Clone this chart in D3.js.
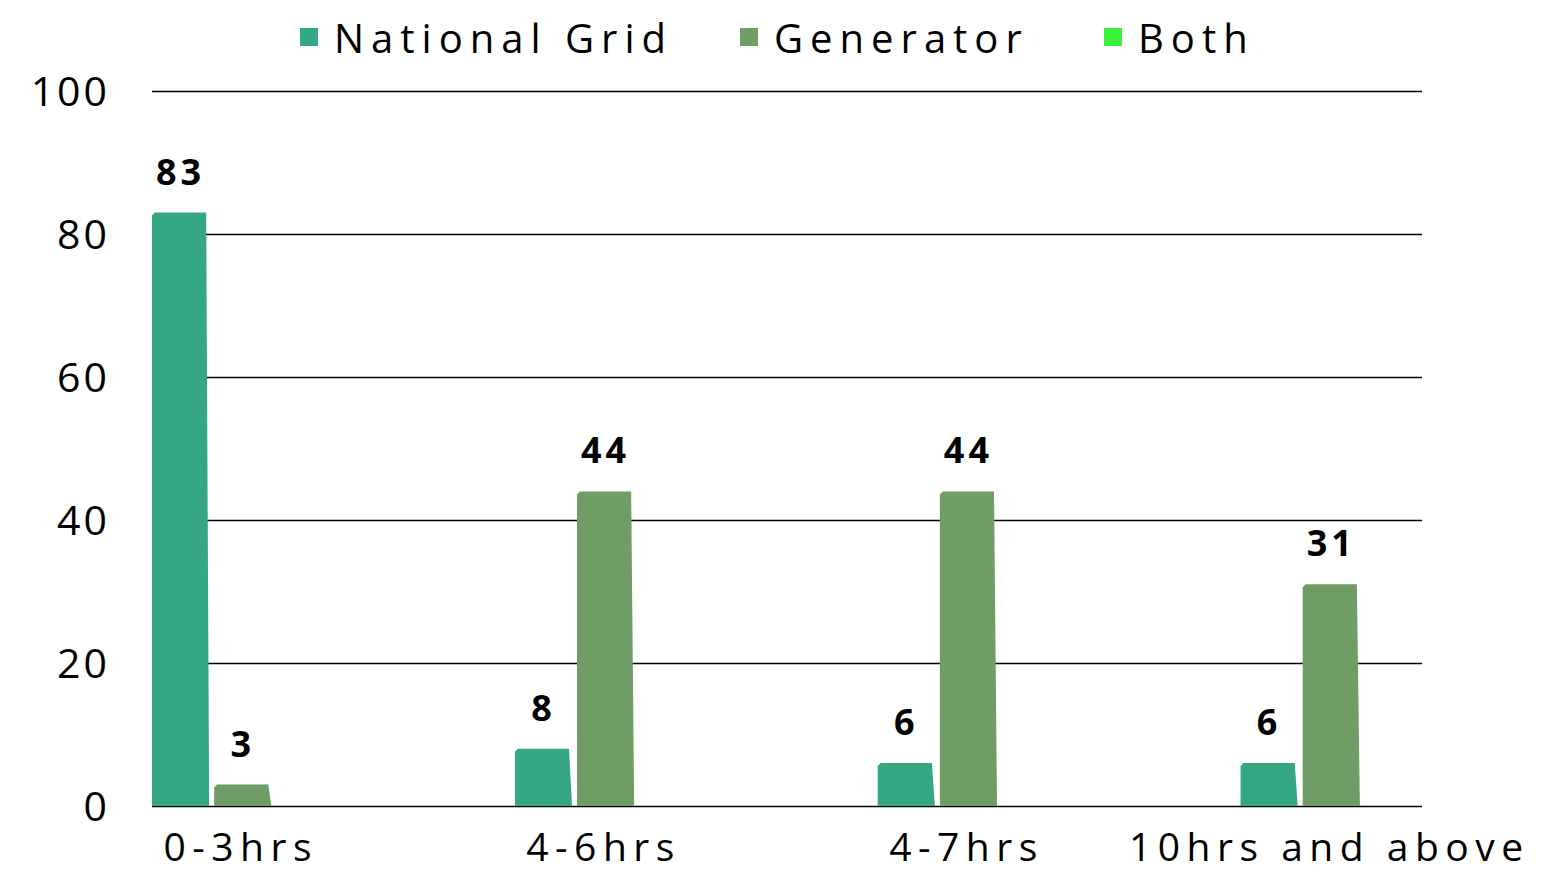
<!DOCTYPE html>
<html>
<head>
<meta charset="utf-8">
<script src="https://d3js.org/d3.v7.min.js"></script>
<style>
  body { margin: 0; background: #fff; }
  svg text { font-family: "Open Sans", "Noto Sans", sans-serif; fill: #000; }
</style>
</head>
<body>
<script>
// chart data
var categories = ["0-3hrs", "4-6hrs", "4-7hrs", "10hrs and above"];
var seriesNames = ["National Grid", "Generator", "Both"];
var nationalGrid = [83, 8, 6, 6];
var generator = [3, 44, 44, 31];
var both = [0, 0, 0, 0];
var yTicks = [0, 20, 40, 60, 80, 100];
var colors = ["#35a786", "#709c66", "#3bf23b"];

var W = 1567, H = 872;
var margin = { top: 91, left: 152, right: 145, bottom: 66 };

var svg = d3.select("body").append("svg")
  .attr("width", W).attr("height", H);

var x0 = d3.scaleBand()
  .domain(categories)
  .range([margin.left, W - margin.right])
  .paddingInner(0.5)
  .paddingOuter(0);

var x1 = d3.scaleBand()
  .domain(seriesNames)
  .range([0, x0.bandwidth()])
  .paddingInner(0.08)
  .paddingOuter(0);

var y = d3.scaleLinear()
  .domain([0, 100])
  .range([H - margin.bottom, margin.top]);

// gridlines
svg.append("g").selectAll("line")
  .data(yTicks)
  .join("line")
  .attr("x1", margin.left).attr("x2", W - margin.right)
  .attr("y1", d => Math.round(y(d)) + 0.5).attr("y2", d => Math.round(y(d)) + 0.5)
  .attr("stroke", "#000").attr("stroke-width", 1.3);

// y labels
svg.append("g").selectAll("text")
  .data(yTicks)
  .join("text")
  .attr("x", 110)
  .attr("y", d => y(d))
  .attr("dy", "0.36em")
  .attr("text-anchor", "end")
  .style("font-size", "41px")
  .style("letter-spacing", "3px")
  .text(d => d);

// x labels
svg.append("g").selectAll("text")
  .data(categories)
  .join("text")
  .attr("x", d => x0(d) + x0.bandwidth() / 2 - 2)
  .attr("y", H - 11)
  .attr("text-anchor", "middle")
  .style("font-size", "39px")
  .style("letter-spacing", "6.5px")
  .text(d => d);

var rows = categories.map(function(c, i) {
  return [
    { cat: c, name: seriesNames[0], value: nationalGrid[i] },
    { cat: c, name: seriesNames[1], value: generator[i] },
    { cat: c, name: seriesNames[2], value: both[i] }
  ];
});

// bars, with the slightly slanted edges of the original
function barPath(d) {
  var xl = x0(d.cat) + x1(d.name), w = x1.bandwidth();
  var yt = y(d.value), yb = y(0);
  var c = Math.min(3, yb - yt);
  return "M" + xl + "," + yb +
    "L" + xl + "," + (yt + c) +
    "L" + (xl + c) + "," + yt +
    "L" + (xl + w - 3) + "," + yt +
    "L" + (xl + w) + "," + yb + "Z";
}

var groups = svg.append("g").selectAll("g")
  .data(rows)
  .join("g");

groups.selectAll("path")
  .data(d => d.filter(r => r.value > 0))
  .join("path")
  .attr("d", barPath)
  .attr("fill", d => colors[seriesNames.indexOf(d.name)]);

groups.selectAll("text")
  .data(d => d.filter(r => r.value > 0))
  .join("text")
  .attr("x", d => x0(d.cat) + x1(d.name) + x1.bandwidth() / 2)
  .attr("y", d => y(d.value) - 28)
  .attr("text-anchor", "middle")
  .style("font-size", "36px")
  .style("font-weight", "bold")
  .style("letter-spacing", "4px")
  .text(d => d.value);

// legend
var legendX = [300, 740, 1104];
var legend = svg.append("g").selectAll("g")
  .data(seriesNames)
  .join("g")
  .attr("transform", (d, i) => "translate(" + legendX[i] + ",0)");

legend.append("rect")
  .attr("x", 0).attr("y", 28)
  .attr("width", 18).attr("height", 18)
  .attr("fill", (d, i) => colors[i]);

legend.append("text")
  .attr("x", 34).attr("y", 53)
  .style("font-size", "40px")
  .style("letter-spacing", "7px")
  .text(d => d);
</script>
</body>
</html>
